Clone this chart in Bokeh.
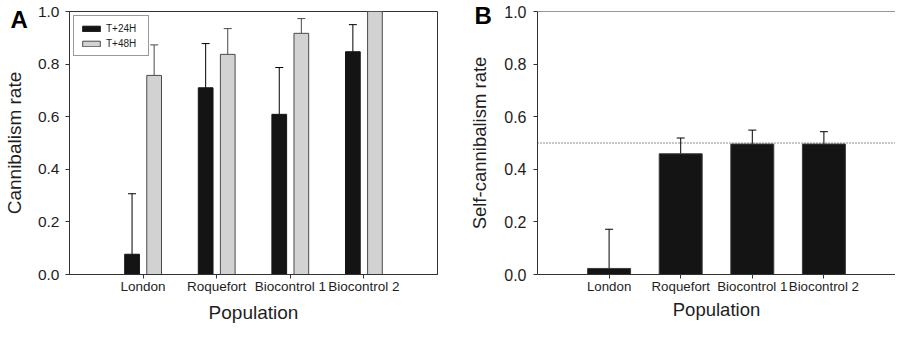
import numpy as np
from bokeh.plotting import figure
from bokeh.layouts import row
from bokeh.models import (ColumnDataSource, FactorRange, Range1d, FixedTicker,
                          NumeralTickFormatter, Whisker, TeeHead, Span, Title)
from bokeh.transform import dodge
from bokeh.embed import file_html
from bokeh.resources import INLINE

# ---------------- data ----------------
categories = ["London", "Roquefort", "Biocontrol 1", "Biocontrol 2"]
t24 = [0.077, 0.710, 0.609, 0.847]
t24_err = [0.230, 0.168, 0.178, 0.103]
t48 = [0.757, 0.837, 0.917, 1.000]
t48_err = [0.116, 0.098, 0.056, 0.0]
self_rate = [0.023, 0.459, 0.496, 0.496]
self_err = [0.149, 0.060, 0.053, 0.047]
chance_level = 0.5
y_ticks = [0.0, 0.2, 0.4, 0.6, 0.8, 1.0]
series_labels = ["T+24H", "T+48H"]

FONT = "Liberation Sans"
AX = "#333333"
TXT = "#1e1e1e"
BLACK = "#141414"
GREY = "#d2d2d2"
GREY_LINE = "#4a4a4a"


def style(p, tick_fs, cat_fs, lab_fs, xl_standoff, yl_standoff, xt_standoff, yt_standoff):
    p.xgrid.grid_line_color = None
    p.ygrid.grid_line_color = None
    p.background_fill_color = "white"
    p.border_fill_color = "white"
    for ax in (p.xaxis[0], p.yaxis[0]):
        ax.axis_line_color = AX
        ax.major_tick_line_color = AX
        ax.major_tick_in = 0
        ax.major_tick_out = 4
        ax.minor_tick_line_color = None
        ax.major_label_text_font = FONT
        ax.major_label_text_color = TXT
        ax.axis_label_text_font = FONT
        ax.axis_label_text_font_style = "normal"
        ax.axis_label_text_color = TXT
        ax.axis_label_text_font_size = lab_fs
    p.xaxis.major_label_text_font_size = cat_fs
    p.yaxis.major_label_text_font_size = tick_fs
    p.xaxis.axis_label_standoff = xl_standoff
    p.yaxis.axis_label_standoff = yl_standoff
    p.xaxis.major_label_standoff = xt_standoff
    p.yaxis.major_label_standoff = yt_standoff
    p.yaxis.ticker = FixedTicker(ticks=y_ticks)
    p.yaxis.formatter = NumeralTickFormatter(format="0.0")


def panel_letter(p, letter, offset, standoff):
    p.add_layout(Title(text=letter, align="left", vertical_align="bottom",
                       offset=offset, standoff=standoff,
                       text_font=FONT, text_font_size="24px", text_font_style="bold",
                       text_color="black"), "above")


# ---------------- panel A ----------------
srcA = ColumnDataSource(dict(
    cats=categories,
    t24=t24, t24_up=list(np.array(t24) + np.array(t24_err)),
    t48=t48, t48_up=list(np.array(t48) + np.array(t48_err)),
))

pA = figure(x_range=FactorRange(factors=categories, range_padding=0.5,
                                range_padding_units="absolute"),
            y_range=Range1d(0, 1), width=452, height=329,
            output_backend="svg", toolbar_location=None,
            min_border_left=61, min_border_right=15,
            min_border_top=7, min_border_bottom=53)
pA.outline_line_color = AX
pA.outline_line_width = 1

pA.vbar(x=dodge("cats", -0.15, range=pA.x_range), top="t24", width=0.2, bottom=0,
        source=srcA, fill_color=BLACK, line_color=BLACK, line_width=1,
        legend_label=series_labels[0])
pA.vbar(x=dodge("cats", 0.15, range=pA.x_range), top="t48", width=0.2, bottom=0,
        source=srcA, fill_color=GREY, line_color=GREY_LINE, line_width=1,
        legend_label=series_labels[1])

pA.add_layout(Whisker(base=dodge("cats", -0.15, range=pA.x_range), upper="t24_up",
                      lower="t24", source=srcA, line_color="black", line_width=1,
                      lower_head=None,
                      upper_head=TeeHead(size=8, line_color="black", line_width=1)))
pA.add_layout(Whisker(base=dodge("cats", 0.15, range=pA.x_range), upper="t48_up",
                      lower="t48", source=srcA, line_color=GREY_LINE, line_width=1,
                      lower_head=None,
                      upper_head=TeeHead(size=8, line_color=GREY_LINE, line_width=1)))

style(pA, "15.5px", "13.5px", "19px", 5, 10, 0, 6)
pA.xaxis.axis_label = "Population"
pA.yaxis.axis_label = "Cannibalism rate"

lg = pA.legend[0]
lg.location = "top_left"
lg.margin = 4
lg.padding = 6
lg.spacing = 3
lg.label_height = 12
lg.label_width = 36
lg.glyph_height = 7
lg.glyph_width = 22
lg.label_standoff = 4
lg.label_text_font = FONT
lg.label_text_font_size = "10px"
lg.label_text_color = TXT
lg.border_line_color = AX
lg.border_line_width = 1
lg.background_fill_alpha = 1.0

panel_letter(pA, "A", -59, -42)

# ---------------- panel B ----------------
srcB = ColumnDataSource(dict(
    cats=categories,
    v=self_rate, up=list(np.array(self_rate) + np.array(self_err)),
))

pB = figure(x_range=FactorRange(factors=categories, range_padding=0.5,
                                range_padding_units="absolute"),
            y_range=Range1d(0, 1), width=443, height=329,
            output_backend="svg", toolbar_location=None,
            min_border_left=85, min_border_right=0,
            min_border_top=11, min_border_bottom=55)
pB.outline_line_color = None

pB.vbar(x="cats", top="v", width=0.6, bottom=0, source=srcB,
        fill_color=BLACK, line_color="#3a3a3a", line_width=1)
pB.add_layout(Whisker(base="cats", upper="up", lower="v", source=srcB,
                      line_color="black", line_width=1, lower_head=None,
                      upper_head=TeeHead(size=8, line_color="black", line_width=1)))
pB.add_layout(Span(location=chance_level, dimension="width", line_color="#222222",
                   line_width=1, line_dash="1 2"))
pB.add_layout(Span(location=y_ticks[-1], dimension="width", line_color=AX, line_width=1))

style(pB, "16px", "13.3px", "18.5px", 2, 11, 0, 7)
pB.xaxis.axis_label = "Population"
pB.yaxis.axis_label = "Self-cannibalism rate"

panel_letter(pB, "B", -63, -34)

layout = row(pA, pB)
open("out.html", "w").write(file_html(layout, INLINE))
